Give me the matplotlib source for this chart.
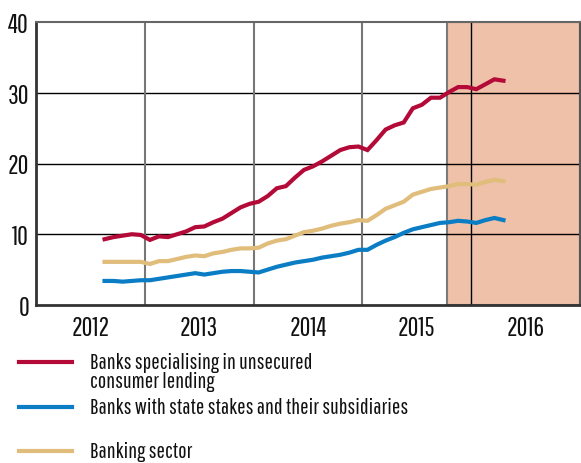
import numpy as np
import matplotlib
matplotlib.use("Agg")
import matplotlib.pyplot as plt
from matplotlib.lines import Line2D

# monthly observations, Aug 2012 - Apr 2016 (per cent)
months = np.arange(45)
x = 2012.63 + months / 12

unsecured = [9.3, 9.6, 9.8, 10.0, 9.9, 9.2, 9.7, 9.6, 10.0, 10.4,
             11.0, 11.1, 11.7, 12.2, 13.0, 13.8, 14.3, 14.6, 15.4, 16.5,
             16.8, 18.0, 19.1, 19.6, 20.3, 21.1, 21.9, 22.3, 22.4, 21.9,
             23.3, 24.8, 25.4, 25.8, 27.8, 28.3, 29.3, 29.3, 30.1, 30.8,
             30.8, 30.5, 31.2, 31.9, 31.7]
state_banks = [3.4, 3.4, 3.3, 3.4, 3.5, 3.5, 3.7, 3.9, 4.1, 4.3,
               4.5, 4.3, 4.5, 4.7, 4.8, 4.8, 4.7, 4.6, 5.0, 5.4,
               5.7, 6.0, 6.2, 6.4, 6.7, 6.9, 7.1, 7.4, 7.8, 7.8,
               8.5, 9.1, 9.6, 10.2, 10.7, 11.0, 11.3, 11.6, 11.7, 11.9,
               11.8, 11.6, 12.0, 12.3, 12.0]
sector = [6.1, 6.1, 6.1, 6.1, 6.1, 5.8, 6.2, 6.2, 6.5, 6.8,
          7.0, 6.9, 7.3, 7.5, 7.8, 8.0, 8.0, 8.1, 8.7, 9.1,
          9.3, 9.8, 10.3, 10.5, 10.8, 11.2, 11.5, 11.7, 12.0, 11.9,
          12.7, 13.6, 14.1, 14.6, 15.6, 16.0, 16.4, 16.6, 16.8, 17.1,
          17.1, 17.0, 17.4, 17.7, 17.5]

series = [unsecured, state_banks, sector]
labels = ["Banks specialising in unsecured\nconsumer lending",
          "Banks with state stakes and their subsidiaries",
          "Banking sector"]
colors = ["#B40A37", "#0A7DC5", "#E0BD7B"]

years = ["2012", "2013", "2014", "2015", "2016"]
shade_start, shade_end = 2015.78, 2017.0

plt.rcParams["font.family"] = ["Pathway Gothic One", "Archivo Narrow",
                               "Sofia Sans Condensed", "DejaVu Sans"]

fig = plt.figure(figsize=(5.81, 4.64), dpi=100)
ax = fig.add_axes([36 / 581, 158 / 464, 544 / 581, 283 / 464])

ax.axvspan(shade_start, shade_end, facecolor="#EFC1A9", edgecolor="#7a7a7a",
           lw=1.5, zorder=0.5)
for yv in [10, 20, 30]:
    ax.axhline(yv, color="black", lw=1, zorder=1)
for i in range(1, len(years)):
    yr = 2012 + i
    ax.axvline(yr, color="black" if yr > shade_start else "#777777",
               lw=1 if yr > shade_start else 1.5, zorder=1)

for vals, col in zip(series, colors):
    ax.plot(x, vals, color=col, lw=3, solid_joinstyle="miter", zorder=3)

ax.set_xlim(2012, 2017)
ax.set_ylim(0, 40)
ax.set_yticks([0, 10, 20, 30, 40])
ax.set_xticks([2012.5 + i for i in range(len(years))])
ax.set_xticklabels(years)
ax.tick_params(axis="both", length=0, labelsize=19, labelcolor="#111111")
ax.tick_params(axis="x", pad=7)
ax.tick_params(axis="y", pad=5)

for side in ["left", "bottom"]:
    ax.spines[side].set_color("#333333")
    ax.spines[side].set_linewidth(2)
ax.spines["top"].set_color("#666666")
ax.spines["top"].set_linewidth(1.5)
ax.spines["right"].set_color("#555555")
ax.spines["right"].set_linewidth(1.5)

# legend below the plot
swatch_y = [363, 408, 452]
for lab, col, yy in zip(labels, colors, swatch_y):
    fy = 1 - yy / 464
    fig.add_artist(Line2D([19 / 581, 72 / 581], [fy, fy], color=col, lw=3,
                          transform=fig.transFigure))
    fig.text(90 / 581, 1 - (yy - 10) / 464, lab, fontsize=16, va="top",
             ha="left", linespacing=0.92, color="#111111")

fig.savefig("out.png", dpi=100)
